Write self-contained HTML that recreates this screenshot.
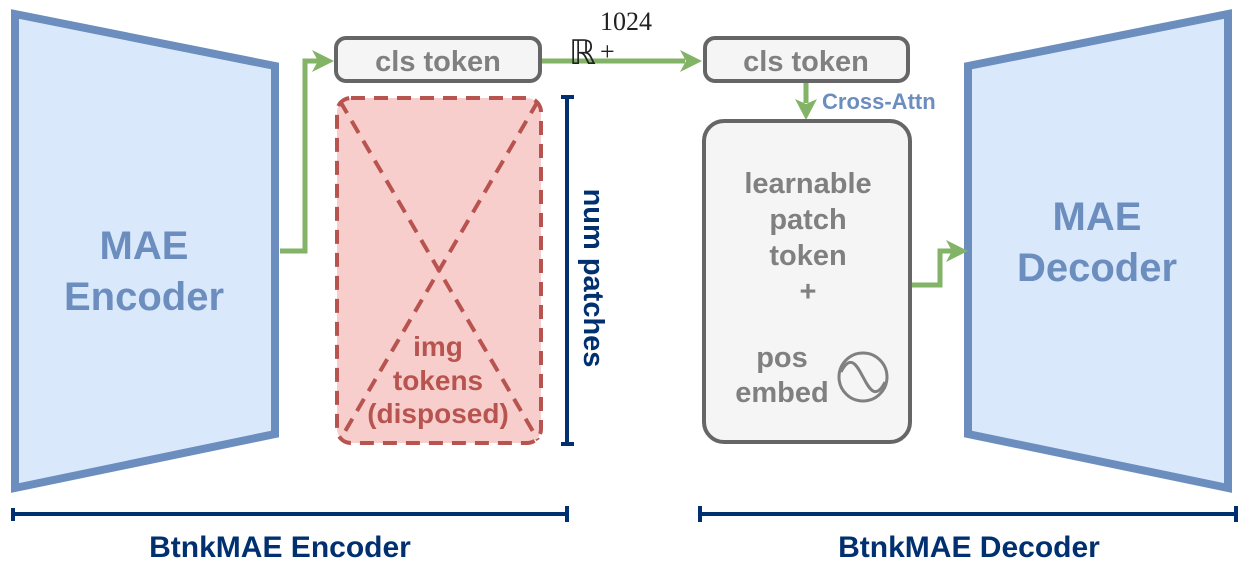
<!DOCTYPE html>
<html><head><meta charset="utf-8"><style>
html,body{margin:0;padding:0;background:#fff;}
svg{display:block;font-family:"Liberation Sans",Arial,sans-serif;}
text{font-weight:700;}
text.m{font-weight:400;font-family:"Liberation Serif",serif;}
</style></head><body>
<svg width="1253" height="583" viewBox="0 0 1253 583" xmlns="http://www.w3.org/2000/svg">
<!-- Encoder -->
<polygon points="15,14 275,66 275,434 15,488" fill="#dae8fc" stroke="#6c8ebf" stroke-width="8"/>
<text x="144" y="259" font-size="40" fill="#6c8ebf" text-anchor="middle">MAE</text>
<text x="144" y="310" font-size="40" fill="#6c8ebf" text-anchor="middle">Encoder</text>
<!-- Decoder -->
<polygon points="968,66 1228,14 1228,488 968,434" fill="#dae8fc" stroke="#6c8ebf" stroke-width="8"/>
<text x="1097" y="230" font-size="40" fill="#6c8ebf" text-anchor="middle">MAE</text>
<text x="1097" y="281" font-size="40" fill="#6c8ebf" text-anchor="middle">Decoder</text>
<!-- green connectors -->
<g stroke="#82b366" stroke-width="5" fill="none">
<polyline points="280,251 305,251 305,61 318,61"/>
<line x1="541" y1="61" x2="685" y2="61"/>
<line x1="806" y1="83" x2="806" y2="103"/>
<polyline points="910,285 940,285 940,251 952,251"/>
</g>
<g fill="#82b366">
<polygon points="334,61 312,50 318,61 312,72"/>
<polygon points="702,61 680,50 686,61 680,72"/>
<polygon points="806,120 795,99 806,104 817,99"/>
<polygon points="968,251 946,240 952,251 946,262"/>
</g>
<!-- cls tokens -->
<rect x="336" y="38" width="204" height="43" rx="10" fill="#f5f5f5" stroke="#666" stroke-width="4"/>
<text x="438" y="71" font-size="29" fill="#808080" text-anchor="middle">cls token</text>
<rect x="705" y="38" width="203" height="43" rx="10" fill="#f5f5f5" stroke="#666" stroke-width="4"/>
<text x="806" y="71" font-size="29" fill="#808080" text-anchor="middle">cls token</text>
<!-- R label -->
<text class="m" x="569" y="64" font-size="34" fill="#222">ℝ</text>
<text class="m" x="600" y="30" font-size="26" fill="#222">1024</text>
<text class="m" x="600" y="60" font-size="26" fill="#222">+</text>
<text x="822" y="109" font-size="22" fill="#6c8ebf">Cross-Attn</text>
<!-- disposed tokens -->
<rect x="337" y="98" width="204" height="345" rx="14" fill="#f8cecc" stroke="#b85450" stroke-width="4" stroke-dasharray="14,9"/>
<g stroke="#b85450" stroke-width="4" stroke-dasharray="14,9">
<line x1="340" y1="101" x2="538" y2="440"/>
<line x1="538" y1="101" x2="340" y2="440"/>
</g>
<g font-size="28" fill="#b85450" text-anchor="middle">
<text x="438" y="356">img</text>
<text x="438" y="390">tokens</text>
<text x="438" y="423">(disposed)</text>
</g>
<!-- num patches -->
<g stroke="#003070" stroke-width="4">
<line x1="567" y1="97" x2="567" y2="444"/>
<line x1="561" y1="97" x2="574" y2="97"/>
<line x1="561" y1="444" x2="574" y2="444"/>
</g>
<text transform="translate(584,278) rotate(90)" font-size="29" fill="#003070" text-anchor="middle">num patches</text>
<!-- learnable box -->
<rect x="704" y="121" width="206" height="321" rx="20" fill="#f5f5f5" stroke="#666" stroke-width="4"/>
<g font-size="29" fill="#808080" text-anchor="middle">
<text x="808" y="193">learnable</text>
<text x="808" y="229">patch</text>
<text x="808" y="265">token</text>
<text x="808" y="301">+</text>
<text x="782" y="367">pos</text>
<text x="782" y="402">embed</text>
</g>
<circle cx="863" cy="377" r="24" fill="none" stroke="#808080" stroke-width="3"/>
<path d="M841,372 C851,352 858,368 863,377 C868,386 875,402 885,382" fill="none" stroke="#808080" stroke-width="3"/>
<!-- bottom brackets -->
<g stroke="#003070" stroke-width="4">
<line x1="12" y1="514" x2="568" y2="514"/>
<line x1="13" y1="508" x2="13" y2="521"/>
<line x1="567" y1="506" x2="567" y2="522"/>
<line x1="699" y1="514" x2="1237" y2="514"/>
<line x1="700" y1="506" x2="700" y2="522"/>
<line x1="1236" y1="506" x2="1236" y2="522"/>
</g>
<text x="280" y="557" font-size="30" fill="#003070" text-anchor="middle">BtnkMAE Encoder</text>
<text x="969" y="557" font-size="30" fill="#003070" text-anchor="middle">BtnkMAE Decoder</text>
</svg>
</body></html>
